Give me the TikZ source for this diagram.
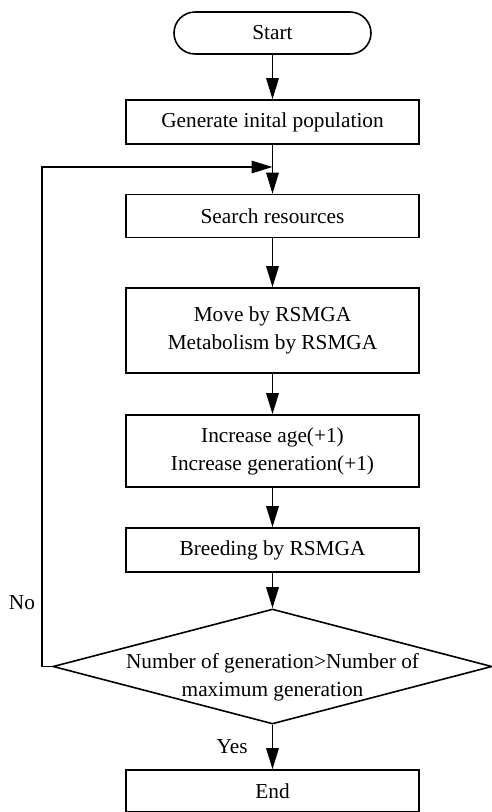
\documentclass[tikz,border=0pt]{standalone}
\usepackage{fontspec}
\setmainfont{Liberation Serif}
\usetikzlibrary{arrows.meta}
\usetikzlibrary{shapes.geometric}

\begin{document}
\begin{tikzpicture}[x=1pt, y=-1pt, line width=1.6pt,
  txt/.style={inner sep=0pt, align=center, font=\fontsize{21.3}{28}\selectfont},
  box/.style={txt, draw, minimum width=293pt, minimum height=43pt},
  arr/.style={-{Triangle[length=21pt,width=12.5pt]}}]
\useasboundingbox (0,0) rectangle (492,812);
% boxes
\node[box, minimum width=197pt, minimum height=42pt, rounded corners=21pt] (start) at (272.5,33) {Start};
\node[box, minimum height=44pt] (init) at (272.5,122) {Generate inital population};
\node[box] (search) at (272.5,216) {Search resources};
\node[box, minimum height=85pt] (move) at (272.5,330.5) {Move by RSMGA\\Metabolism by RSMGA};
\node[box, minimum height=72pt] (age) at (272.5,451) {Increase age(+1)\\Increase generation(+1)};
\node[box, minimum height=44pt] (breed) at (272.5,550) {Breeding by RSMGA};
\node[draw, diamond, minimum width=439pt, minimum height=115pt, inner sep=0pt] (check) at (272.5,666.5) {};
\node[txt] (checktext) at (272.5,677) {Number of generation>Number of\\maximum generation};
\node[box, minimum height=42pt] (stop) at (272.5,791) {End};
\node[txt] (no) at (22,603) {No};
\coordinate (loop) at (42,167);
% arrows
\draw[arr] (start) -- (init);
\draw[arr] (init) -- (search);
\draw[arr] (search) -- (move);
\draw[arr] (move) -- (age);
\draw[arr] (age) -- (breed);
\draw[arr] (breed) -- (check);
\draw[arr] (check) -- node[txt, left=24pt] (yes) {Yes} (stop);
\draw[arr] (check.west) -- (loop |- check.west) -- (loop) -- (loop -| init.south);
\end{tikzpicture}
\end{document}
